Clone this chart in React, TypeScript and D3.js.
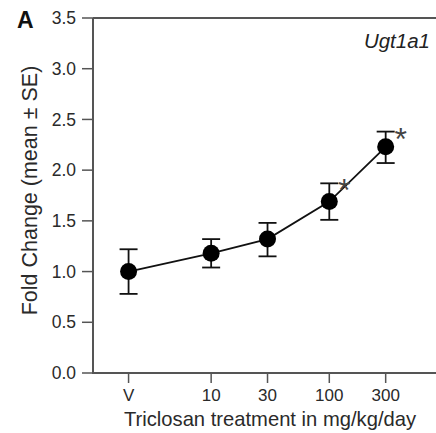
import React from "react";
import * as d3 from "d3";

const categories = ["V", "10", "30", "100", "300"];
// plotted dose position on the log axis (vehicle placed at 2)
const dosePositions = [2, 10, 30, 100, 300];
const means = [1.0, 1.18, 1.32, 1.69, 2.23];
const seUpper = [1.22, 1.32, 1.48, 1.87, 2.38];
const seLower = [0.78, 1.04, 1.15, 1.51, 2.07];
const significant = [false, false, false, true, true];
const yTicks = [0, 0.5, 1.0, 1.5, 2.0, 2.5, 3.0, 3.5];

const W = 436;
const H = 433;
const left = 93;
const right = 436;
const top = 18;
const bottom = 373;
const font = "Liberation Sans, Arial, Helvetica, sans-serif";

export default function App() {
  const x = d3.scaleLog().domain([1, 800]).range([left, right]);
  const y = d3.scaleLinear().domain([0, 3.5]).range([bottom, top]);
  const line = d3
    .line<number>()
    .x((_, i) => x(dosePositions[i]))
    .y((d) => y(d));
  const axisColor = "#555";
  const textColor = "#2a2a2a";
  const cap = 9;

  return (
    <svg
      width={W}
      height={H}
      style={{ position: "absolute", left: 0, top: 0, background: "#fff" }}
    >
      {/* frame lines */}
      <line x1={left} x2={left} y1={top} y2={bottom} stroke={axisColor} strokeWidth={2} />
      <line x1={left - 1} x2={right} y1={bottom} y2={bottom} stroke={axisColor} strokeWidth={2} />
      <line x1={left} x2={right} y1={top} y2={top} stroke={axisColor} strokeWidth={2} />

      {/* y ticks */}
      {yTicks.map((t) => (
        <g key={t}>
          <line x1={left - 11} x2={left} y1={y(t)} y2={y(t)} stroke={axisColor} strokeWidth={1.5} />
          <text
            x={left - 17}
            y={y(t)}
            dy="0.35em"
            textAnchor="end"
            fontFamily={font}
            fontSize={17.5}
            fill={textColor}
          >
            {t.toFixed(1)}
          </text>
        </g>
      ))}

      {/* x ticks */}
      {categories.map((c, i) => (
        <g key={c}>
          <line
            x1={x(dosePositions[i])}
            x2={x(dosePositions[i])}
            y1={bottom}
            y2={bottom + 10}
            stroke={axisColor}
            strokeWidth={1.5}
          />
          <text
            x={x(dosePositions[i])}
            y={401}
            textAnchor="middle"
            fontFamily={font}
            fontSize={17}
            fill={textColor}
          >
            {c}
          </text>
        </g>
      ))}

      {/* axis titles */}
      <text
        x={270}
        y={426}
        textAnchor="middle"
        fontFamily={font}
        fontSize={20.2}
        fill={textColor}
      >
        Triclosan treatment in mg/kg/day
      </text>
      <text
        transform={`translate(37,190.5) rotate(-90)`}
        textAnchor="middle"
        fontFamily={font}
        fontSize={21.5}
        fill={textColor}
      >
        Fold Change (mean ± SE)
      </text>

      {/* panel label and gene name */}
      <text x={17} y={28} fontFamily={font} fontSize={23} fontWeight="bold" fill="#111">
        A
      </text>
      <text
        x={430}
        y={48}
        textAnchor="end"
        fontFamily={font}
        fontSize={20.5}
        fontStyle="italic"
        fill="#222"
      >
        Ugt1a1
      </text>

      {/* connecting line */}
      <path d={line(means) || ""} fill="none" stroke="#111" strokeWidth={1.8} />

      {/* error bars */}
      {means.map((m, i) => {
        const cx = x(dosePositions[i]);
        return (
          <g key={i} stroke="#111" strokeWidth={1.8}>
            <line x1={cx} x2={cx} y1={y(seUpper[i])} y2={y(seUpper[i]) < y(seLower[i]) ? y(seLower[i]) : y(seLower[i])} />
            <line x1={cx - cap} x2={cx + cap} y1={y(seUpper[i])} y2={y(seUpper[i])} />
            <line x1={cx - cap} x2={cx + cap} y1={y(seLower[i])} y2={y(seLower[i])} />
          </g>
        );
      })}

      {/* points */}
      {means.map((m, i) => (
        <circle key={i} cx={x(dosePositions[i])} cy={y(m)} r={8.5} fill="#000" />
      ))}

      {/* significance */}
      {means.map((m, i) =>
        significant[i] ? (
          <text
            key={i}
            x={x(dosePositions[i]) + 15}
            y={y(seUpper[i]) + 18}
            textAnchor="middle"
            fontFamily={font}
            fontSize={32}
            fill="#444"
          >
            *
          </text>
        ) : null
      )}
    </svg>
  );
}
